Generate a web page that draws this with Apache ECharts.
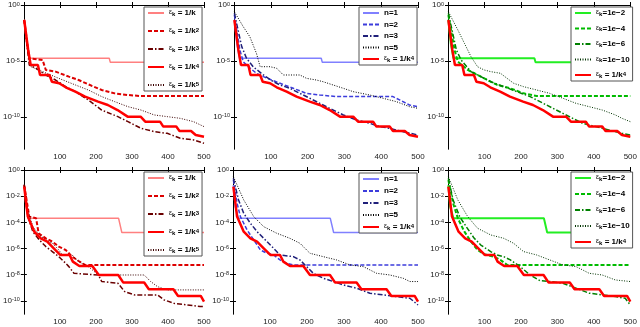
<!DOCTYPE html>
<html>
<head>
<meta charset="utf-8">
<script src="https://cdn.jsdelivr.net/npm/echarts@6/dist/echarts.min.js"></script>
<style>
  html, body { margin: 0; padding: 0; background: #fff; }
  #chart { width: 640px; height: 327px; }
</style>
</head>
<body>
<div id="chart"></div>
<script>
// x = iteration, y = log10 of the error
const xTicks = [100, 200, 300, 400, 500];
const yTicksTop = [0, -5, -10];
const yTicksBottom = [0, -2, -4, -6, -8, -10];

// top row
const flatTop = [[1,-1.3],[8,-3.5],[15,-4.76],[237,-4.76],[240,-5.12],[500,-5.12]];
const k2Top = [[1,-1.34],[15,-4.76],[52,-4.91],[61,-5.8],[88,-5.95],[125,-6.4],[152,-6.7],[189,-7.23],[216,-7.59],[252,-7.89],[289,-8.04],[325,-8.13],[500,-8.13]];
const k3Top = [[1,-1.34],[15,-5.36],[34,-5.65],[61,-6.25],[88,-6.7],[116,-7.29],[143,-7.74],[179,-8.48],[216,-9.38],[261,-9.97],[289,-10.42],[325,-11.01],[362,-11.31],[398,-11.46],[434,-11.9],[471,-12.05],[500,-12.35]];
const redTop = [[1,-1.34],[12,-4.02],[19,-5.36],[39,-5.36],[45,-6.25],[71,-6.25],[78,-6.85],[98,-6.99],[116,-7.35],[143,-7.74],[170,-8.18],[206,-8.63],[233,-8.93],[260,-9.38],[288,-9.97],[324,-9.97],[337,-10.42],[378,-10.42],[387,-10.86],[423,-10.86],[432,-11.25],[464,-11.25],[477,-11.61],[500,-11.76]];
const k5Top = [[1,-1.34],[11,-4.02],[20,-5.51],[52,-5.95],[97,-6.55],[143,-7.14],[179,-7.59],[216,-8.18],[252,-8.63],[289,-9.08],[325,-9.38],[362,-9.82],[398,-9.97],[434,-10.12],[471,-10.42],[500,-10.86]];
const n2Top = [[1,-0.89],[16,-4.02],[25,-5.06],[39,-5.51],[61,-6.1],[80,-6.4],[102,-6.7],[125,-6.99],[161,-7.44],[197,-7.89],[233,-8.04],[278,-8.18],[432,-8.18],[450,-8.48],[477,-8.93],[500,-9.08]];
const n3Top = [[1,-0.74],[21,-3.72],[34,-4.76],[52,-5.51],[80,-6.25],[107,-6.85],[125,-7.14],[152,-7.44],[179,-7.89],[206,-8.33],[233,-8.78],[260,-9.23],[297,-9.82],[333,-10.27],[369,-10.57],[396,-10.86],[423,-11.01],[459,-11.31],[500,-11.61]];
const n5Top = [[1,-0.6],[25,-1.93],[43,-2.83],[61,-4.32],[71,-5.51],[98,-5.51],[116,-5.65],[134,-6.25],[179,-6.25],[197,-6.55],[224,-6.7],[242,-6.85],[297,-7.44],[324,-7.74],[369,-8.04],[405,-8.33],[441,-8.63],[477,-9.08],[500,-9.23]];
const e4Top = [[1,-0.89],[18,-4.02],[27,-5.06],[54,-5.8],[81,-6.25],[108,-6.7],[135,-7.14],[171,-7.44],[207,-7.89],[243,-8.13],[500,-8.13]];
const e6Top = [[1,-0.74],[23,-4.02],[36,-4.91],[63,-5.95],[90,-6.4],[117,-6.85],[153,-7.29],[189,-7.74],[225,-8.18],[261,-8.78],[297,-9.38],[333,-9.97],[369,-10.57],[405,-10.86],[441,-11.16],[477,-11.46],[500,-11.61]];
const e10Top = [[1,-0.6],[27,-2.23],[45,-3.42],[63,-4.61],[81,-5.51],[99,-5.8],[117,-5.95],[144,-6.1],[162,-6.55],[180,-6.99],[207,-7.29],[243,-7.59],[279,-7.89],[315,-8.33],[351,-8.78],[387,-9.08],[423,-9.38],[459,-9.82],[477,-10.12],[500,-10.42]];

// bottom row
const flatBot = [[1,-1.15],[6,-2.8],[15,-3.69],[263,-3.69],[272,-4.78],[500,-4.78]];
const k2Bot = [[1,-1.15],[15,-3.56],[34,-3.69],[41,-4.83],[61,-5.22],[79,-5.47],[97,-5.85],[116,-6.11],[134,-6.62],[152,-6.95],[170,-7.25],[500,-7.25]];
const k3Bot = [[1,-1.15],[11,-3.56],[25,-4.71],[43,-5.34],[61,-5.85],[79,-6.23],[97,-6.62],[116,-7.12],[125,-7.38],[139,-7.89],[207,-8.02],[216,-8.52],[261,-8.65],[280,-9.29],[307,-9.54],[371,-9.54],[389,-9.92],[416,-10.18],[489,-10.43],[500,-10.43]];
const redBot = [[1,-1.27],[11,-3.56],[29,-4.71],[47,-5.22],[65,-5.47],[83,-5.98],[101,-6.49],[127,-6.49],[136,-7.0],[154,-7.33],[190,-7.33],[208,-8.02],[262,-8.02],[276,-8.6],[334,-8.6],[347,-9.11],[415,-9.11],[428,-9.62],[491,-9.62],[500,-10.05]];
const k5Bot = [[1,-1.07],[11,-3.05],[25,-4.33],[43,-4.96],[61,-5.34],[79,-5.6],[97,-6.11],[107,-6.49],[134,-6.49],[152,-7.0],[179,-7.38],[207,-8.02],[334,-8.02],[352,-8.52],[371,-8.91],[398,-9.16],[500,-9.16]];
const n2Bot = [[1,-0.76],[11,-2.54],[20,-3.56],[38,-4.58],[56,-5.34],[74,-6.11],[92,-6.36],[110,-6.49],[127,-6.87],[145,-7.12],[163,-7.25],[500,-7.25]];
const n3Bot = [[1,-0.64],[15,-2.29],[29,-3.31],[47,-4.07],[65,-4.71],[83,-5.22],[101,-5.73],[118,-6.23],[127,-6.49],[163,-6.62],[181,-6.87],[199,-7.38],[217,-7.89],[244,-8.27],[271,-8.52],[298,-8.78],[334,-9.03],[370,-9.41],[406,-9.54],[442,-9.67],[478,-9.8],[500,-10.31]];
const n5Bot = [[1,-0.51],[29,-2.29],[56,-3.56],[83,-4.33],[118,-4.83],[154,-5.22],[181,-5.6],[208,-6.36],[244,-6.62],[280,-6.87],[316,-7.25],[352,-7.38],[370,-7.63],[388,-7.89],[424,-8.02],[460,-8.27],[478,-8.52],[500,-8.52]];
const e4Bot = [[1,-0.76],[14,-2.54],[27,-3.69],[45,-4.71],[63,-5.47],[81,-6.11],[99,-6.44],[126,-6.62],[144,-6.87],[162,-7.25],[500,-7.25]];
const e6Bot = [[1,-0.64],[14,-2.29],[32,-3.56],[50,-4.33],[72,-5.22],[90,-5.73],[117,-6.23],[135,-6.49],[153,-6.62],[171,-6.87],[198,-7.38],[225,-8.02],[252,-8.45],[279,-8.52],[315,-8.65],[351,-9.03],[387,-9.41],[423,-9.54],[459,-9.67],[486,-9.8],[500,-10.31]];
const e10Bot = [[1,-0.51],[27,-2.29],[54,-3.56],[81,-4.45],[117,-4.96],[153,-5.22],[180,-5.6],[207,-6.23],[243,-6.49],[279,-6.87],[315,-7.25],[351,-7.38],[369,-7.63],[387,-7.89],[423,-8.02],[459,-8.4],[500,-8.52]];

const DASH = [4, 2];
const DASHDOT = [5, 2, 1.5, 2];
const DOT = [1, 1.5];

// name -> line look (shared by both rows)
const looks = {
  'k1':  { color: '#ff8080', type: 'solid', width: 1.5 },
  'k2':  { color: '#dd0000', type: DASH, width: 2 },
  'k3':  { color: '#6a0000', type: DASHDOT, width: 1.5 },
  'k4':  { color: '#ff0000', type: 'solid', width: 2.5 },
  'k5':  { color: '#3a0000', type: DOT, width: 1 },
  'n=1': { color: '#8080ff', type: 'solid', width: 1.5 },
  'n=2': { color: '#3c3cdc', type: DASH, width: 1.5 },
  'n=3': { color: '#20207a', type: DASHDOT, width: 1.5 },
  'n=5': { color: '#000000', type: DOT, width: 1 },
  'e2':  { color: '#22ee22', type: 'solid', width: 2 },
  'e4':  { color: '#00bb00', type: DASH, width: 2 },
  'e6':  { color: '#008000', type: DASHDOT, width: 1.5 },
  'e10': { color: '#003300', type: DOT, width: 1 },
};

const legendText = {
  'k1': '{e|ε}{s|k}{t| = 1/k}',
  'k2': '{e|ε}{s|k}{t| = 1/k}{p|2}',
  'k3': '{e|ε}{s|k}{t| = 1/k}{p|3}',
  'k4': '{e|ε}{s|k}{t| = 1/k}{p|4}',
  'k5': '{e|ε}{s|k}{t| = 1/k}{p|5}',
  'n=1': '{t|n=1}',
  'n=2': '{t|n=2}',
  'n=3': '{t|n=3}',
  'n=5': '{t|n=5}',
  'e2': '{e|ε}{s|k}{t|=1e−2}',
  'e4': '{e|ε}{s|k}{t|=1e−4}',
  'e6': '{e|ε}{s|k}{t|=1e−6}',
  'e10': '{e|ε}{s|k}{t|=1e−10}',
};

const panels = [
  { box: [21, 5, 183, 144], yMin: -12.86, yTicks: yTicksTop, leg: [144, 7, 10],
    lines: [['k1', flatTop], ['k2', k2Top], ['k3', k3Top], ['k4', redTop], ['k5', k5Top]] },
  { box: [234, 5, 184, 144], yMin: -12.86, yTicks: yTicksTop, leg: [359, 7, 3.5],
    lines: [['n=1', flatTop], ['n=2', n2Top], ['n=3', n3Top], ['n=5', n5Top], ['k4', redTop]] },
  { box: [448, 5, 185, 144], yMin: -12.86, yTicks: yTicksTop, leg: [571, 7, 7.5],
    lines: [['e2', flatTop], ['e4', e4Top], ['e6', e6Top], ['e10', e10Top], ['k4', redTop]] },
  { box: [21, 170, 183, 144], yMin: -11, yTicks: yTicksBottom, leg: [144, 172, 10],
    lines: [['k1', flatBot], ['k2', k2Bot], ['k3', k3Bot], ['k4', redBot], ['k5', k5Bot]] },
  { box: [233, 170, 185, 144], yMin: -11, yTicks: yTicksBottom, leg: [359, 173, 4],
    lines: [['n=1', flatBot], ['n=2', n2Bot], ['n=3', n3Bot], ['n=5', n5Bot], ['k4', redBot]] },
  { box: [448, 170, 185, 144], yMin: -11, yTicks: yTicksBottom, leg: [571, 172, 8],
    lines: [['e2', flatBot], ['e4', e4Bot], ['e6', e6Bot], ['e10', e10Bot], ['k4', redBot]] },
];

const FONT = 'Liberation Sans';
const tick = { show: true, inside: false, length: 3, lineStyle: { color: '#000', width: 1 } };
const axLine = { show: true, lineStyle: { color: '#000', width: 1 } };

let grid = [], xAxis = [], yAxis = [], legend = [], series = [];

panels.forEach((p, i) => {
  grid.push({ left: p.box[0], top: p.box[1], width: p.box[2], height: p.box[3] });

  // bottom (labelled) and top (ticks only)
  xAxis.push({
    gridIndex: i, type: 'value', min: 0, max: 500, interval: 100, position: 'bottom',
    axisLine: axLine, axisTick: tick, splitLine: { show: false },
    axisLabel: { fontFamily: FONT, fontSize: 8, color: '#222', margin: 4,
      formatter: v => (v === 0 ? '' : v) },
  });
  xAxis.push({
    gridIndex: i, type: 'value', min: 0, max: 500, interval: 100, position: 'top',
    axisLine: axLine, axisTick: tick, splitLine: { show: false }, axisLabel: { show: false },
  });

  yAxis.push({
    gridIndex: i, type: 'value', min: p.yMin, max: 0, position: 'left',
    axisLine: axLine, splitLine: { show: false },
    axisTick: Object.assign({}, tick, { customValues: p.yTicks }),
    axisLabel: {
      customValues: p.yTicks, margin: 4, fontFamily: FONT, fontSize: 8, color: '#222',
      formatter: v => '10{s|' + (v === 0 ? '0' : '-' + Math.abs(v)) + '}',
      rich: { s: { fontSize: 5.5, fontFamily: FONT, color: '#222', verticalAlign: 'top', lineHeight: 6 } },
    },
  });
  yAxis.push({
    gridIndex: i, type: 'value', min: p.yMin, max: 0, position: 'right',
    axisLine: axLine, splitLine: { show: false },
    axisTick: Object.assign({}, tick, { customValues: p.yTicks }),
    axisLabel: { show: false },
  });

  legend.push({
    left: p.leg[0], top: p.leg[1], orient: 'vertical',
    data: p.lines.map(l => l[0]),
    itemWidth: 16, itemHeight: 8, itemGap: p.leg[2],
    padding: [2, 3, 2, 3], backgroundColor: '#fff',
    borderColor: '#555', borderWidth: 1, borderRadius: 0,
    selectedMode: false,
    itemStyle: { opacity: 0 },
    formatter: name => legendText[name],
    textStyle: {
      fontFamily: FONT, color: '#000',
      rich: {
        t: { fontSize: 8, fontWeight: 'bold', fontFamily: FONT, color: '#000' },
        e: { fontSize: 7, fontFamily: FONT, color: '#000', verticalAlign: 'top', lineHeight: 8 },
        s: { fontSize: 6, fontWeight: 'bold', fontFamily: FONT, color: '#000', verticalAlign: 'bottom', lineHeight: 6 },
        p: { fontSize: 6, fontWeight: 'bold', fontFamily: FONT, color: '#000', verticalAlign: 'top', lineHeight: 6 },
      },
    },
  });

  p.lines.forEach(([name, data]) => {
    const lk = looks[name];
    series.push({
      name: name, type: 'line', xAxisIndex: 2 * i, yAxisIndex: 2 * i,
      data: data, symbol: 'none', showSymbol: false, animation: false,
      z: name === 'k4' ? 5 : 2,
      color: lk.color,
      lineStyle: { color: lk.color, type: lk.type, width: lk.width },
    });
  });
});

const chart = echarts.init(document.getElementById('chart'));
chart.setOption({
  animation: false,
  backgroundColor: '#fff',
  grid: grid,
  xAxis: xAxis,
  yAxis: yAxis,
  legend: legend,
  series: series,
});
</script>
</body>
</html>
